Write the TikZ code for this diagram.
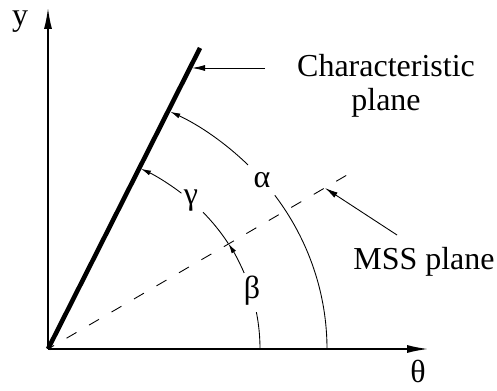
\documentclass[tikz,border=0pt]{standalone}
\usepackage{fontspec}
\setmainfont{Liberation Serif}
\usetikzlibrary{arrows.meta}

\begin{document}
\begin{tikzpicture}[font=\fontsize{18.2}{19.4}\selectfont,
    axis/.style = {line width=0.8pt, -{Latex[length=0.42cm,width=0.16cm]}},
    pointer/.style = {line width=0.5pt, -{Latex[length=0.26cm,width=0.12cm]}},
    arcline/.style = {line width=0.5pt},
    arctip/.style = {arcline, -{Latex[length=0.2cm,width=0.1cm]}},
    charline/.style = {line width=2.6pt},
    mssline/.style = {line width=0.5pt, dash pattern=on 0.23cm off 0.29cm, dash phase=0.09cm}]
    \useasboundingbox (-0.96,-0.82) rectangle (8.98,6.98);

    % axes and planes
    \coordinate (O) at (0,0);
    \coordinate (ytip) at (0,6.82);
    \coordinate (xtip) at (7.6,0);
    \coordinate (charend) at (3.04,6.02);
    \coordinate (mssend) at (5.98,3.48);
    \draw[axis] (O) -- (ytip);
    \draw[axis] (O) -- (xtip);
    \draw[mssline] (O) -- (mssend);
    \draw[charline] (O) -- (charend);

    \node (y) at (-0.56,6.54) {y};
    \node[inner sep=1pt] (theta) at (7.4,-0.44) {θ};
    \node[align=center] (charlabel) at (6.76,5.26) {Characteristic\\plane};
    \node[anchor=base west, inner sep=0pt] (msslabel) at (6.1,1.58) {MSS plane};

    % pointers
    \coordinate (charfrom) at (4.34,5.62);
    \coordinate (charto) at (2.88,5.62);
    \coordinate (mssfrom) at (6.98,2.28);
    \coordinate (mssto) at (5.54,3.22);
    \draw[pointer] (charfrom) -- (charto);
    \draw[pointer] (mssfrom) -- (mssto);

    % angle alpha
    \draw[arcline] (O) ++(0:5.58 and 5.28) arc[start angle=0, end angle=35.6, x radius=5.58, y radius=5.28];
    \draw[arctip] (O) ++(44.2:5.58 and 5.28) arc[start angle=44.2, end angle=64, x radius=5.58, y radius=5.28];
    \node (alpha) at (4.28,3.38) {α};

    % angles beta and gamma
    \draw[arcline] (O) ++(0:4.24 and 4.01) arc[start angle=0, end angle=10.6, x radius=4.24, y radius=4.01];
    \draw[arctip] (O) ++(22.3:4.24 and 4.01) arc[start angle=22.3, end angle=31.7, x radius=4.24, y radius=4.01];
    \node (beta) at (4.08,1.16) {β};
    \draw[arcline] (O) ++(31.7:4.24 and 4.01) arc[start angle=31.7, end angle=43, x radius=4.24, y radius=4.01];
    \draw[arctip] (O) ++(51:4.24 and 4.01) arc[start angle=51, end angle=64, x radius=4.24, y radius=4.01];
    \node (gamma) at (2.86,2.96) {γ};
\end{tikzpicture}
\end{document}
